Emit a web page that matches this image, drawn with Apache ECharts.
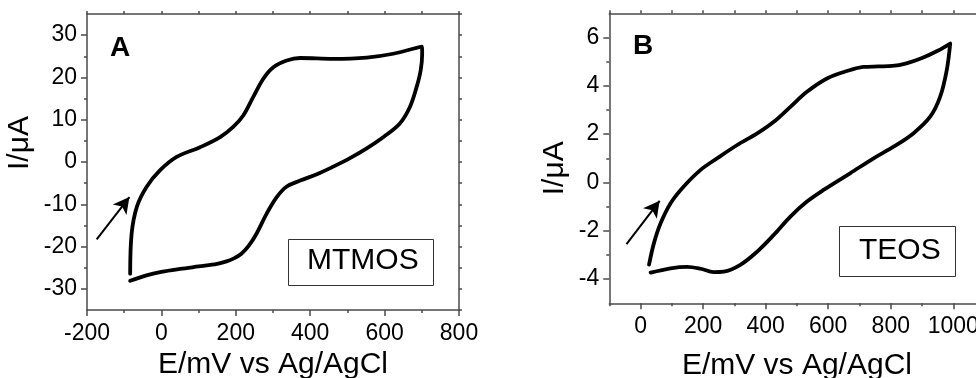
<!DOCTYPE html>
<html>
<head>
<meta charset="utf-8">
<script src="https://cdn.jsdelivr.net/npm/echarts@6/dist/echarts.min.js"></script>
<style>html,body{margin:0;padding:0;background:#fff}#c{width:976px;height:378px}</style>
</head>
<body>
<div id="c"></div>
<script>
// ---- Panel A (MTMOS) cyclic voltammogram ----
const mtmosE = [-84,-80,-66,-40,-4,41,104,158,193,220,247,274,301,337,373,462,552,623,700,
  701,697,686,668,641,597,552,507,462,418,373,337,310,283,256,235,215,195,175,150,100,50,0,-40,-84];
const mtmosI = [-26.4,-16.9,-10.6,-5.9,-2,1.2,3.5,5.9,8.3,11,15.4,19.7,22.4,24,24.6,24.4,24.7,25.6,27.3,
  25.6,21.7,17.7,13,9.1,5.9,3.2,0.9,-1.1,-2.9,-4.4,-5.8,-8.3,-12.2,-16.9,-19.8,-21.7,-22.8,-23.5,-24.1,-24.7,-25.3,-26.0,-26.8,-28.1];
// ---- Panel B (TEOS) cyclic voltammogram ----
const teosE = [27,43,64,96,138,192,245,309,373,426,479,532,596,660,713,760,805,850,900,950,990,
  979,958,926,872,809,745,670,585,532,479,426,373,319,266,234,192,149,96,32];
const teosI = [-3.4,-2.5,-1.69,-0.86,-0.17,0.52,1.0,1.55,2.03,2.51,3.13,3.75,4.3,4.61,4.78,4.8,4.82,4.93,5.15,5.45,5.75,
  4.65,3.55,2.72,2.03,1.48,1.0,0.38,-0.31,-0.79,-1.41,-2.17,-2.86,-3.41,-3.69,-3.71,-3.57,-3.49,-3.55,-3.73];
// arrows (data coordinates: [E, I] tail, head)
const arrowA = [[-174,-18.3],[-86,-8.3]];
const arrowB = [[-45,-2.55],[61,-0.76]];
// tick values
const xMajorA = [-200,0,200,400,600,800];
const xMinorA = [-100,100,300,500,700];
const yMajorA = [-30,-20,-10,0,10,20,30];
const yMinorA = [-25,-15,-5,5,15,25];
const xMajorB = [0,200,400,600,800,1000];
const xMinorB = [-100,100,300,500,700,900];
const yMajorB = [-4,-2,0,2,4,6];
const yMinorB = [-3,-1,1,3,5];
const xTitle = 'E/mV vs Ag/AgCl';
const yTitle = 'I/\u03bcA';

const FONT = 'Liberation Sans, Arial, sans-serif';
const AX = '#4a4a4a';
const chart = echarts.init(document.getElementById('c'), null, {renderer:'canvas'});

function zip(a,b){return a.map((v,i)=>[v,b[i]]);}
function axisBase(grid, pos, min, max){
  return {type:'value', gridIndex:grid, position:pos, min:min, max:max,
    splitLine:{show:false}, axisLine:{show:false, onZero:false, lineStyle:{color:AX,width:1.5}},
    axisTick:{show:false}, axisLabel:{show:false}};
}
function majorAxis(grid, pos, min, max, ticks, name, nameGap, namePad){
  const a = axisBase(grid,pos,min,max);
  a.axisLine.show = true;
  a.axisTick = {show:true, inside:false, length:6, customValues:ticks, lineStyle:{color:AX,width:1.5}};
  a.axisLabel = {show:true, customValues:ticks, color:'#000', fontSize:23, fontFamily:FONT,
    margin: (pos==='left'?10:12), formatter: v => String(v)};
  a.name = name; a.nameLocation = 'middle'; a.nameGap = nameGap;
  a.nameTextStyle = {fontSize:30, fontFamily:FONT, color:'#000', padding:namePad};
  return a;
}
function minorAxis(grid, pos, min, max, ticks, len, showLine){
  const a = axisBase(grid,pos,min,max);
  a.axisLine.show = !!showLine;
  a.axisTick = {show:true, inside:false, length:len, customValues:ticks, lineStyle:{color:AX,width:1.5}};
  return a;
}
function range(a,b,s){const r=[];for(let v=a;v<=b+1e-9;v+=s)r.push(v);return r;}

const gridA = {left:87, right:976-459, top:14, bottom:378-310, outerBoundsMode:'none', containLabel:false};
const gridB = {left:609.3, right:976-984.6, top:13.3, bottom:378-303.3, outerBoundsMode:'none', containLabel:false};

const xAxes = [
  majorAxis(0,'bottom',-200,800,xMajorA,xTitle,40,[0,0,0,0]),
  minorAxis(0,'bottom',-200,800,xMinorA,3,false),
  minorAxis(0,'top',-200,800,range(-200,800,100),3,true),
  majorAxis(1,'bottom',-100,1100,xMajorB,xTitle,47,[0,0,0,0]),
  minorAxis(1,'bottom',-100,1100,xMinorB,3,false),
  minorAxis(1,'top',-100,1100,range(-100,1100,100),3,true)
];
const yAxes = [
  majorAxis(0,'left',-35,35,yMajorA,yTitle,52,[0,0,0,38]),
  minorAxis(0,'left',-35,35,yMinorA,3,false),
  minorAxis(0,'right',-35,35,range(-35,35,5),3,true),
  majorAxis(1,'left',-5,7,yMajorB,yTitle,40,[0,20,0,0]),
  minorAxis(1,'left',-5,7,yMinorB,3,false)
];

function cvSeries(xi, yi, E, I, arrow){
  return {type:'line', xAxisIndex:xi, yAxisIndex:yi, data:zip(E,I), smooth:0.35,
    showSymbol:false, symbol:'none', lineStyle:{color:'#000', width:3.8, cap:'round', join:'round'},
    silent:true, animation:false,
    markLine:{silent:true, animation:false, symbol:['none','arrow'], symbolSize:[13,16], label:{show:false},
      lineStyle:{color:'#000', width:2, type:'solid'},
      data:[[{coord:arrow[0]},{coord:arrow[1]}]]}};
}

const graphic = [
  {type:'text', left:110, top:34, style:{text:'A', font:'bold 28px '+FONT, fill:'#000'}},
  {type:'text', left:633, top:32, style:{text:'B', font:'bold 28px '+FONT, fill:'#000'}},
  {type:'rect', shape:{x:288.5, y:239.5, width:145, height:46}, style:{fill:'#fff', stroke:'#333', lineWidth:1}},
  {type:'text', left:307, top:246, style:{text:'MTMOS', font:'30px '+FONT, fill:'#000'}},
  {type:'rect', shape:{x:839.5, y:226.5, width:116, height:50}, style:{fill:'#fff', stroke:'#333', lineWidth:1}},
  {type:'text', left:859, top:236, style:{text:'TEOS', font:'30px '+FONT, fill:'#000'}}
];

chart.setOption({
  animation:false,
  backgroundColor:'#fff',
  textStyle:{fontFamily:FONT},
  grid:[gridA, gridB],
  xAxis:xAxes,
  yAxis:yAxes,
  graphic:graphic,
  series:[cvSeries(0,0,mtmosE,mtmosI,arrowA), cvSeries(3,3,teosE,teosI,arrowB)]
});
</script>
</body>
</html>
